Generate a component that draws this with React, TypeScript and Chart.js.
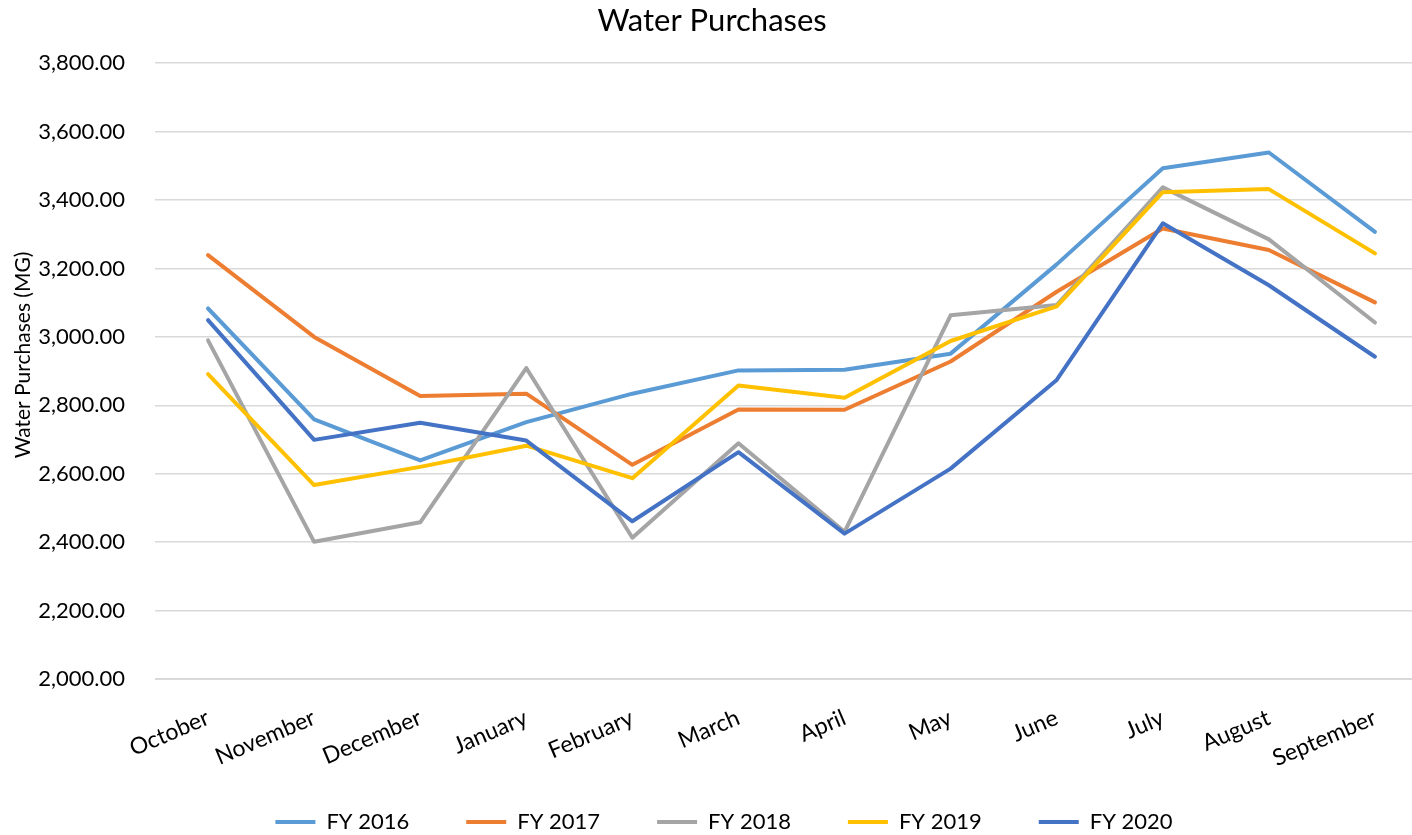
import React, { useEffect, useRef } from "react";
import { Chart, registerables } from "chart.js";

Chart.register(...registerables);

const months = [
  "October", "November", "December", "January", "February", "March",
  "April", "May", "June", "July", "August", "September",
];

const fy2016 = [3083, 2759, 2639, 2751, 2834, 2902, 2904, 2951, 3212, 3493, 3539, 3307];
const fy2017 = [3239, 3000, 2827, 2834, 2626, 2788, 2787, 2928, 3132, 3317, 3254, 3101];
const fy2018 = [2990, 2401, 2458, 2909, 2413, 2689, 2430, 3063, 3093, 3437, 3285, 3042];
const fy2019 = [2891, 2567, 2620, 2682, 2587, 2858, 2822, 2988, 3089, 3423, 3432, 3244];
const fy2020 = [3049, 2699, 2749, 2697, 2461, 2663, 2425, 2615, 2874, 3332, 3151, 2942];

const seriesNames = ["FY 2016", "FY 2017", "FY 2018", "FY 2019", "FY 2020"];
const seriesColors = ["#5B9BD5", "#ED7D31", "#A5A5A5", "#FFC000", "#4472C4"];
const seriesValues = [fy2016, fy2017, fy2018, fy2019, fy2020];

const yMin = 2000;
const yMax = 3800;
const yStep = 200;

export default function App() {
  const canvasRef = useRef<HTMLCanvasElement | null>(null);

  useEffect(() => {
    document.documentElement.style.overflow = "hidden";
    document.body.style.overflow = "hidden";
    const canvas = canvasRef.current;
    if (!canvas) return;
    Chart.defaults.font.family = "Lato";
    Chart.defaults.color = "#000";

    const chart = new Chart(canvas, {
      type: "line",
      data: {
        labels: months,
        datasets: seriesNames.map((name, i) => ({
          label: name,
          data: seriesValues[i],
          borderColor: seriesColors[i],
          backgroundColor: seriesColors[i],
          borderWidth: 4,
          pointRadius: 0,
          pointHoverRadius: 0,
          tension: 0,
          fill: false,
          borderCapStyle: "round",
          borderJoinStyle: "round",
          order: seriesNames.length - 1 - i,
        })),
      },
      options: {
        animation: false,
        responsive: false,
        devicePixelRatio: 1,
        layout: { padding: { left: 20, right: 2, top: 0, bottom: 0 } },
        plugins: {
          tooltip: { enabled: false },
          title: {
            display: true,
            text: "Water Purchases   ",
            color: "#000",
            font: { size: 31, weight: "normal", family: "Lato" },
            padding: { top: 2, bottom: 24 },
          },
          legend: {
            display: true,
            position: "bottom",
            labels: {
              boxWidth: 40,
              boxHeight: 4,
              padding: 57,
              color: "#000",
              font: { size: 22, family: "Lato" },
              generateLabels: (c: any) =>
                c.data.datasets.map((ds: any, i: number) => ({
                  text: ds.label,
                  fillStyle: ds.borderColor,
                  strokeStyle: ds.borderColor,
                  lineWidth: 0,
                  hidden: false,
                  datasetIndex: i,
                  fontColor: "#000",
                })),
            },
          },
        },
        scales: {
          x: {
            type: "category",
            offset: true,
            grid: { display: false, drawTicks: false },
            border: { display: true, color: "#D9D9D9", width: 1 },
            ticks: {
              minRotation: 23,
              maxRotation: 23,
              autoSkip: false,
              padding: 25,
              color: "#000",
              font: { size: 23, family: "Lato" },
            },
            afterFit: (scale: any) => {
              scale.height = 75;
              scale._computeLabelArea = () => undefined;
            },
          },
          y: {
            min: yMin,
            max: yMax,
            grid: { color: "#D9D9D9", lineWidth: 1.5, drawTicks: false },
            border: { display: false },
            ticks: {
              stepSize: yStep,
              padding: 30,
              color: "#000",
              font: { size: 22, family: "Lato" },
              callback: (v: any) =>
                Number(v).toLocaleString("en-US", {
                  minimumFractionDigits: 2,
                  maximumFractionDigits: 2,
                }),
            },
            title: {
              display: true,
              text: "      Water Purchases (MG)",
              color: "#000",
              font: { size: 21, family: "Lato" },
              padding: { top: -9, bottom: 0 },
            },
            afterFit: (scale: any) => {
              scale.width = 135;
            },
          },
        },
      },
    });
    return () => chart.destroy();
  }, []);

  return (
    <div style={{ position: "fixed", left: 0, top: 0, width: 1430, height: 843, background: "#fff" }}>
      <canvas ref={canvasRef} width={1430} height={843} style={{ display: "block" }} />
    </div>
  );
}
